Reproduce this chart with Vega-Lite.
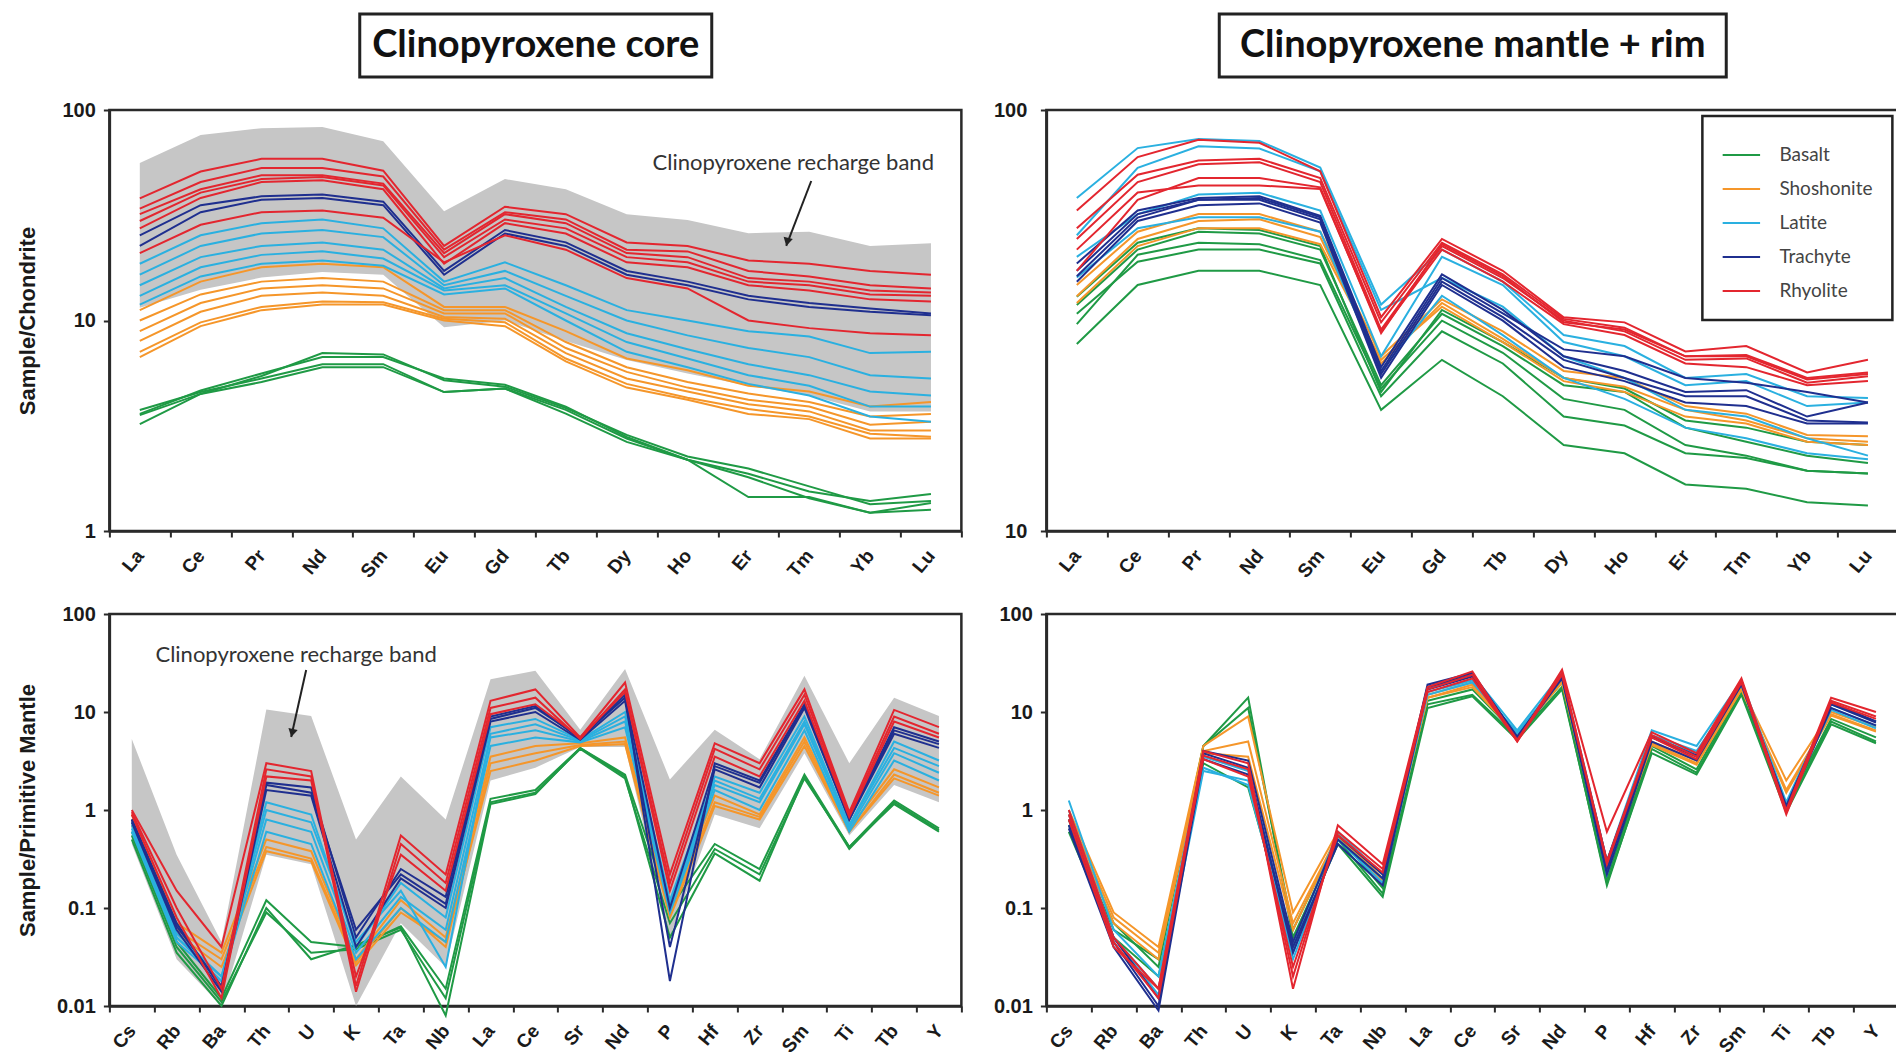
{
"$schema":"https://vega.github.io/schema/vega-lite/v6.json",
"background":"white",
"padding":{"left":15,"top":12,"right":0,"bottom":0},
"config":{
"view":{"stroke":"#2a2a2a","strokeWidth":2.5},
"axis":{"grid":false,"domainColor":"#2a2a2a","domainWidth":2.5,"tickColor":"#2a2a2a","tickWidth":2,"tickSize":6,"labelFont":"Liberation Sans","labelFontWeight":"bold","labelColor":"#1a1a1a","titleFont":"Liberation Sans","titleFontWeight":"bold","titleColor":"#1a1a1a"},
"legend":{"strokeWidth":2.5},
"line":{"strokeWidth":2}
},
"datasets":{
"groups":[
{"s":"B1","g":"Basalt"},{"s":"B2","g":"Basalt"},{"s":"B3","g":"Basalt"},{"s":"B4","g":"Basalt"},{"s":"B5","g":"Basalt"},
{"s":"S0","g":"Shoshonite"},{"s":"S1","g":"Shoshonite"},{"s":"S2","g":"Shoshonite"},{"s":"S3","g":"Shoshonite"},{"s":"S4","g":"Shoshonite"},{"s":"S5","g":"Shoshonite"},
{"s":"L1","g":"Latite"},{"s":"L2","g":"Latite"},{"s":"L3","g":"Latite"},{"s":"L4","g":"Latite"},{"s":"L5","g":"Latite"},
{"s":"T1","g":"Trachyte"},{"s":"T2","g":"Trachyte"},{"s":"T3","g":"Trachyte"},{"s":"T4","g":"Trachyte"},
{"s":"R1","g":"Rhyolite"},{"s":"R2","g":"Rhyolite"},{"s":"R3","g":"Rhyolite"},{"s":"R4","g":"Rhyolite"},{"s":"R5","g":"Rhyolite"},{"s":"R6","g":"Rhyolite"}
],
"bandREE":[
{"e":"La","lo":11.5,"hi":56},{"e":"Ce","lo":14,"hi":76},{"e":"Pr","lo":16,"hi":82},{"e":"Nd","lo":17,"hi":83},{"e":"Sm","lo":16.5,"hi":71},{"e":"Eu","lo":9.3,"hi":33},{"e":"Gd","lo":10,"hi":47},{"e":"Tb","lo":8,"hi":42},{"e":"Dy","lo":6.5,"hi":32},{"e":"Ho","lo":5.6,"hi":30},{"e":"Er","lo":4.9,"hi":26},{"e":"Tm","lo":4.4,"hi":26.4},{"e":"Yb","lo":3.7,"hi":22.6},{"e":"Lu","lo":3.7,"hi":23.3}
],
"bandSP":[
{"e":"Cs","lo":0.45,"hi":5.3},{"e":"Rb","lo":0.03,"hi":0.35},{"e":"Ba","lo":0.01,"hi":0.045},{"e":"Th","lo":0.35,"hi":10.6},{"e":"U","lo":0.28,"hi":9.1},{"e":"K","lo":0.01,"hi":0.5},{"e":"Ta","lo":0.07,"hi":2.2},{"e":"Nb","lo":0.025,"hi":0.8},{"e":"La","lo":2,"hi":21.6},{"e":"Ce","lo":2.7,"hi":26.3},{"e":"Sr","lo":4.4,"hi":6.6},{"e":"Nd","lo":4.4,"hi":27.4},{"e":"P","lo":0.05,"hi":2.05},{"e":"Hf","lo":0.9,"hi":6.6},{"e":"Zr","lo":0.65,"hi":3.3},{"e":"Sm","lo":3.8,"hi":23.4},{"e":"Ti","lo":0.55,"hi":3},{"e":"Tb","lo":1.8,"hi":14},{"e":"Y","lo":1.2,"hi":9.1}
],
"reeCore":[
{"s":"B1","e":"La","v":3.76},{"s":"B1","e":"Ce","v":4.57},{"s":"B1","e":"Pr","v":5.3},{"s":"B1","e":"Nd","v":6.2},{"s":"B1","e":"Sm","v":6.2},{"s":"B1","e":"Eu","v":4.57},{"s":"B1","e":"Gd","v":4.75},{"s":"B1","e":"Tb","v":3.76},{"s":"B1","e":"Dy","v":2.75},{"s":"B1","e":"Ho","v":2.18},{"s":"B1","e":"Er","v":1.87},{"s":"B1","e":"Tm","v":1.54},{"s":"B1","e":"Yb","v":1.39},{"s":"B1","e":"Lu","v":1.5},
{"s":"B2","e":"La","v":3.55},{"s":"B2","e":"Ce","v":4.48},{"s":"B2","e":"Pr","v":5.45},{"s":"B2","e":"Nd","v":7.0},{"s":"B2","e":"Sm","v":6.9},{"s":"B2","e":"Eu","v":5.2},{"s":"B2","e":"Gd","v":4.85},{"s":"B2","e":"Tb","v":3.84},{"s":"B2","e":"Dy","v":2.86},{"s":"B2","e":"Ho","v":2.26},{"s":"B2","e":"Er","v":1.98},{"s":"B2","e":"Tm","v":1.63},{"s":"B2","e":"Yb","v":1.34},{"s":"B2","e":"Lu","v":1.39},
{"s":"B3","e":"La","v":3.22},{"s":"B3","e":"Ce","v":4.48},{"s":"B3","e":"Pr","v":5.1},{"s":"B3","e":"Nd","v":6.0},{"s":"B3","e":"Sm","v":6.0},{"s":"B3","e":"Eu","v":4.57},{"s":"B3","e":"Gd","v":4.75},{"s":"B3","e":"Tb","v":3.61},{"s":"B3","e":"Dy","v":2.65},{"s":"B3","e":"Ho","v":2.18},{"s":"B3","e":"Er","v":1.45},{"s":"B3","e":"Tm","v":1.45},{"s":"B3","e":"Yb","v":1.22},{"s":"B3","e":"Lu","v":1.36},
{"s":"B4","e":"La","v":3.6},{"s":"B4","e":"Ce","v":4.65},{"s":"B4","e":"Pr","v":5.6},{"s":"B4","e":"Nd","v":6.7},{"s":"B4","e":"Sm","v":6.7},{"s":"B4","e":"Eu","v":5.3},{"s":"B4","e":"Gd","v":4.95},{"s":"B4","e":"Tb","v":3.9},{"s":"B4","e":"Dy","v":2.8},{"s":"B4","e":"Ho","v":2.18},{"s":"B4","e":"Er","v":1.8},{"s":"B4","e":"Tm","v":1.43},{"s":"B4","e":"Yb","v":1.22},{"s":"B4","e":"Lu","v":1.26},
{"s":"S0","e":"La","v":11.2},{"s":"S0","e":"Ce","v":15.3},{"s":"S0","e":"Pr","v":17.9},{"s":"S0","e":"Nd","v":18.6},{"s":"S0","e":"Sm","v":17.9},{"s":"S0","e":"Eu","v":11.6},{"s":"S0","e":"Gd","v":11.6},{"s":"S0","e":"Tb","v":8.9},{"s":"S0","e":"Dy","v":6.6},{"s":"S0","e":"Ho","v":5.8},{"s":"S0","e":"Er","v":4.9},{"s":"S0","e":"Tm","v":4.6},{"s":"S0","e":"Yb","v":3.9},{"s":"S0","e":"Lu","v":4.1},
{"s":"S1","e":"La","v":10},{"s":"S1","e":"Ce","v":13.3},{"s":"S1","e":"Pr","v":15.3},{"s":"S1","e":"Nd","v":15.9},{"s":"S1","e":"Sm","v":15.3},{"s":"S1","e":"Eu","v":11.2},{"s":"S1","e":"Gd","v":11.2},{"s":"S1","e":"Tb","v":7.9},{"s":"S1","e":"Dy","v":6},{"s":"S1","e":"Ho","v":5.1},{"s":"S1","e":"Er","v":4.5},{"s":"S1","e":"Tm","v":4.1},{"s":"S1","e":"Yb","v":3.5},{"s":"S1","e":"Lu","v":3.6},
{"s":"S2","e":"La","v":8.9},{"s":"S2","e":"Ce","v":12.1},{"s":"S2","e":"Pr","v":14.2},{"s":"S2","e":"Nd","v":14.7},{"s":"S2","e":"Sm","v":14.2},{"s":"S2","e":"Eu","v":10.8},{"s":"S2","e":"Gd","v":10.8},{"s":"S2","e":"Tb","v":7.4},{"s":"S2","e":"Dy","v":5.7},{"s":"S2","e":"Ho","v":4.8},{"s":"S2","e":"Er","v":4.2},{"s":"S2","e":"Tm","v":3.9},{"s":"S2","e":"Yb","v":3.2},{"s":"S2","e":"Lu","v":3.3},
{"s":"S3","e":"La","v":8},{"s":"S3","e":"Ce","v":11},{"s":"S3","e":"Pr","v":13.1},{"s":"S3","e":"Nd","v":13.6},{"s":"S3","e":"Sm","v":13.1},{"s":"S3","e":"Eu","v":10.4},{"s":"S3","e":"Gd","v":10.2},{"s":"S3","e":"Tb","v":7},{"s":"S3","e":"Dy","v":5.3},{"s":"S3","e":"Ho","v":4.6},{"s":"S3","e":"Er","v":4},{"s":"S3","e":"Tm","v":3.7},{"s":"S3","e":"Yb","v":3},{"s":"S3","e":"Lu","v":3},
{"s":"S4","e":"La","v":7.1},{"s":"S4","e":"Ce","v":9.8},{"s":"S4","e":"Pr","v":11.6},{"s":"S4","e":"Nd","v":12.3},{"s":"S4","e":"Sm","v":12.2},{"s":"S4","e":"Eu","v":10.2},{"s":"S4","e":"Gd","v":9.8},{"s":"S4","e":"Tb","v":6.6},{"s":"S4","e":"Dy","v":5},{"s":"S4","e":"Ho","v":4.3},{"s":"S4","e":"Er","v":3.8},{"s":"S4","e":"Tm","v":3.5},{"s":"S4","e":"Yb","v":2.9},{"s":"S4","e":"Lu","v":2.8},
{"s":"S5","e":"La","v":6.7},{"s":"S5","e":"Ce","v":9.4},{"s":"S5","e":"Pr","v":11.2},{"s":"S5","e":"Nd","v":11.9},{"s":"S5","e":"Sm","v":11.9},{"s":"S5","e":"Eu","v":10},{"s":"S5","e":"Gd","v":9.4},{"s":"S5","e":"Tb","v":6.4},{"s":"S5","e":"Dy","v":4.8},{"s":"S5","e":"Ho","v":4.2},{"s":"S5","e":"Er","v":3.6},{"s":"S5","e":"Tm","v":3.4},{"s":"S5","e":"Yb","v":2.75},{"s":"S5","e":"Lu","v":2.75},
{"s":"L1","e":"La","v":18.6},{"s":"L1","e":"Ce","v":25.4},{"s":"L1","e":"Pr","v":29},{"s":"L1","e":"Nd","v":30.2},{"s":"L1","e":"Sm","v":27.4},{"s":"L1","e":"Eu","v":15.3},{"s":"L1","e":"Gd","v":18.9},{"s":"L1","e":"Tb","v":14.7},{"s":"L1","e":"Dy","v":11.2},{"s":"L1","e":"Ho","v":10},{"s":"L1","e":"Er","v":8.9},{"s":"L1","e":"Tm","v":8.4},{"s":"L1","e":"Yb","v":7},{"s":"L1","e":"Lu","v":7.1},
{"s":"L2","e":"La","v":16.5},{"s":"L2","e":"Ce","v":22.6},{"s":"L2","e":"Pr","v":25.9},{"s":"L2","e":"Nd","v":26.9},{"s":"L2","e":"Sm","v":24.9},{"s":"L2","e":"Eu","v":14.7},{"s":"L2","e":"Gd","v":17.2},{"s":"L2","e":"Tb","v":13.1},{"s":"L2","e":"Dy","v":10},{"s":"L2","e":"Ho","v":8.5},{"s":"L2","e":"Er","v":7.4},{"s":"L2","e":"Tm","v":6.7},{"s":"L2","e":"Yb","v":5.5},{"s":"L2","e":"Lu","v":5.3},
{"s":"L3","e":"La","v":14.7},{"s":"L3","e":"Ce","v":20},{"s":"L3","e":"Pr","v":22.6},{"s":"L3","e":"Nd","v":23.5},{"s":"L3","e":"Sm","v":21.7},{"s":"L3","e":"Eu","v":14.2},{"s":"L3","e":"Gd","v":15.9},{"s":"L3","e":"Tb","v":11.6},{"s":"L3","e":"Dy","v":8.7},{"s":"L3","e":"Ho","v":7.3},{"s":"L3","e":"Er","v":6.2},{"s":"L3","e":"Tm","v":5.5},{"s":"L3","e":"Yb","v":4.6},{"s":"L3","e":"Lu","v":4.4},
{"s":"L4","e":"La","v":13.1},{"s":"L4","e":"Ce","v":17.9},{"s":"L4","e":"Pr","v":20.5},{"s":"L4","e":"Nd","v":21.3},{"s":"L4","e":"Sm","v":19.7},{"s":"L4","e":"Eu","v":13.9},{"s":"L4","e":"Gd","v":14.7},{"s":"L4","e":"Tb","v":10.8},{"s":"L4","e":"Dy","v":7.9},{"s":"L4","e":"Ho","v":6.6},{"s":"L4","e":"Er","v":5.5},{"s":"L4","e":"Tm","v":4.9},{"s":"L4","e":"Yb","v":3.9},{"s":"L4","e":"Lu","v":3.9},
{"s":"L5","e":"La","v":11.9},{"s":"L5","e":"Ce","v":16.2},{"s":"L5","e":"Pr","v":18.6},{"s":"L5","e":"Nd","v":19.3},{"s":"L5","e":"Sm","v":18.2},{"s":"L5","e":"Eu","v":13.3},{"s":"L5","e":"Gd","v":14.2},{"s":"L5","e":"Tb","v":10},{"s":"L5","e":"Dy","v":7.1},{"s":"L5","e":"Ho","v":6},{"s":"L5","e":"Er","v":5},{"s":"L5","e":"Tm","v":4.4},{"s":"L5","e":"Yb","v":3.5},{"s":"L5","e":"Lu","v":3.3},
{"s":"T1","e":"La","v":25.4},{"s":"T1","e":"Ce","v":35.3},{"s":"T1","e":"Pr","v":38.9},{"s":"T1","e":"Nd","v":39.7},{"s":"T1","e":"Sm","v":36.7},{"s":"T1","e":"Eu","v":17.2},{"s":"T1","e":"Gd","v":26.9},{"s":"T1","e":"Tb","v":23.5},{"s":"T1","e":"Dy","v":17.2},{"s":"T1","e":"Ho","v":15.3},{"s":"T1","e":"Er","v":13.1},{"s":"T1","e":"Tm","v":12.1},{"s":"T1","e":"Yb","v":11.4},{"s":"T1","e":"Lu","v":10.8},
{"s":"T2","e":"La","v":22.6},{"s":"T2","e":"Ce","v":32.7},{"s":"T2","e":"Pr","v":37.5},{"s":"T2","e":"Nd","v":38.2},{"s":"T2","e":"Sm","v":35.3},{"s":"T2","e":"Eu","v":16.5},{"s":"T2","e":"Gd","v":25.9},{"s":"T2","e":"Tb","v":22.6},{"s":"T2","e":"Dy","v":16.5},{"s":"T2","e":"Ho","v":14.7},{"s":"T2","e":"Er","v":12.6},{"s":"T2","e":"Tm","v":11.6},{"s":"T2","e":"Yb","v":11},{"s":"T2","e":"Lu","v":10.6},
{"s":"R5","e":"La","v":20.9},{"s":"R5","e":"Ce","v":28.5},{"s":"R5","e":"Pr","v":32.7},{"s":"R5","e":"Nd","v":33.3},{"s":"R5","e":"Sm","v":30.8},{"s":"R5","e":"Eu","v":18.9},{"s":"R5","e":"Gd","v":25.4},{"s":"R5","e":"Tb","v":21.7},{"s":"R5","e":"Dy","v":15.9},{"s":"R5","e":"Ho","v":14.2},{"s":"R5","e":"Er","v":10},{"s":"R5","e":"Tm","v":9.2},{"s":"R5","e":"Yb","v":8.7},{"s":"R5","e":"Lu","v":8.5},
{"s":"R4","e":"La","v":27.4},{"s":"R4","e":"Ce","v":38.2},{"s":"R4","e":"Pr","v":45.5},{"s":"R4","e":"Nd","v":46.4},{"s":"R4","e":"Sm","v":42},{"s":"R4","e":"Eu","v":18.6},{"s":"R4","e":"Gd","v":29},{"s":"R4","e":"Tb","v":25.9},{"s":"R4","e":"Dy","v":18.9},{"s":"R4","e":"Ho","v":17.9},{"s":"R4","e":"Er","v":14.7},{"s":"R4","e":"Tm","v":13.9},{"s":"R4","e":"Yb","v":12.6},{"s":"R4","e":"Lu","v":12.3},
{"s":"R3","e":"La","v":29.7},{"s":"R3","e":"Ce","v":40.5},{"s":"R3","e":"Pr","v":47},{"s":"R3","e":"Nd","v":48},{"s":"R3","e":"Sm","v":43.8},{"s":"R3","e":"Eu","v":20},{"s":"R3","e":"Gd","v":30.2},{"s":"R3","e":"Tb","v":27.4},{"s":"R3","e":"Dy","v":20},{"s":"R3","e":"Ho","v":18.9},{"s":"R3","e":"Er","v":15.3},{"s":"R3","e":"Tm","v":14.7},{"s":"R3","e":"Yb","v":13.3},{"s":"R3","e":"Lu","v":13.1},
{"s":"R2","e":"La","v":32},{"s":"R2","e":"Ce","v":42},{"s":"R2","e":"Pr","v":49},{"s":"R2","e":"Nd","v":49},{"s":"R2","e":"Sm","v":44.7},{"s":"R2","e":"Eu","v":20.9},{"s":"R2","e":"Gd","v":32},{"s":"R2","e":"Tb","v":29},{"s":"R2","e":"Dy","v":20.9},{"s":"R2","e":"Ho","v":20},{"s":"R2","e":"Er","v":15.9},{"s":"R2","e":"Tm","v":15.3},{"s":"R2","e":"Yb","v":13.9},{"s":"R2","e":"Lu","v":13.6},
{"s":"R6","e":"La","v":34},{"s":"R6","e":"Ce","v":45.5},{"s":"R6","e":"Pr","v":53},{"s":"R6","e":"Nd","v":53},{"s":"R6","e":"Sm","v":48.3},{"s":"R6","e":"Eu","v":21.7},{"s":"R6","e":"Gd","v":32.7},{"s":"R6","e":"Tb","v":30.2},{"s":"R6","e":"Dy","v":21.7},{"s":"R6","e":"Ho","v":21.3},{"s":"R6","e":"Er","v":17.2},{"s":"R6","e":"Tm","v":16.2},{"s":"R6","e":"Yb","v":14.7},{"s":"R6","e":"Lu","v":14.2},
{"s":"R1","e":"La","v":38},{"s":"R1","e":"Ce","v":51},{"s":"R1","e":"Pr","v":58.6},{"s":"R1","e":"Nd","v":58.6},{"s":"R1","e":"Sm","v":51.5},{"s":"R1","e":"Eu","v":22.6},{"s":"R1","e":"Gd","v":34.7},{"s":"R1","e":"Tb","v":32},{"s":"R1","e":"Dy","v":23.5},{"s":"R1","e":"Ho","v":22.6},{"s":"R1","e":"Er","v":19.3},{"s":"R1","e":"Tm","v":18.6},{"s":"R1","e":"Yb","v":17.2},{"s":"R1","e":"Lu","v":16.5}
],
"reeRim":[
{"s":"B4","e":"La","v":27.8},{"s":"B4","e":"Ce","v":38.4},{"s":"B4","e":"Pr","v":41.5},{"s":"B4","e":"Nd","v":41.5},{"s":"B4","e":"Sm","v":38.4},{"s":"B4","e":"Eu","v":19.4},{"s":"B4","e":"Gd","v":25.5},{"s":"B4","e":"Tb","v":20.9},{"s":"B4","e":"Dy","v":16},{"s":"B4","e":"Ho","v":15.3},{"s":"B4","e":"Er","v":12.9},{"s":"B4","e":"Tm","v":12.6},{"s":"B4","e":"Yb","v":11.7},{"s":"B4","e":"Lu","v":11.5},
{"s":"B2","e":"La","v":31},{"s":"B2","e":"Ce","v":45.3},{"s":"B2","e":"Pr","v":48.4},{"s":"B2","e":"Nd","v":48},{"s":"B2","e":"Sm","v":44},{"s":"B2","e":"Eu","v":21.8},{"s":"B2","e":"Gd","v":31.6},{"s":"B2","e":"Tb","v":26.5},{"s":"B2","e":"Dy","v":20.6},{"s":"B2","e":"Ho","v":19.4},{"s":"B2","e":"Er","v":16},{"s":"B2","e":"Tm","v":15.1},{"s":"B2","e":"Yb","v":13.9},{"s":"B2","e":"Lu","v":13.7},
{"s":"B3","e":"La","v":32.8},{"s":"B3","e":"Ce","v":43.6},{"s":"B3","e":"Pr","v":46.6},{"s":"B3","e":"Nd","v":46.6},{"s":"B3","e":"Sm","v":43.2},{"s":"B3","e":"Eu","v":20.9},{"s":"B3","e":"Gd","v":29.8},{"s":"B3","e":"Tb","v":25},{"s":"B3","e":"Dy","v":18.7},{"s":"B3","e":"Ho","v":17.8},{"s":"B3","e":"Er","v":15.3},{"s":"B3","e":"Tm","v":14.9},{"s":"B3","e":"Yb","v":13.9},{"s":"B3","e":"Lu","v":13.7},
{"s":"B1","e":"La","v":34.4},{"s":"B1","e":"Ce","v":46.6},{"s":"B1","e":"Pr","v":51.4},{"s":"B1","e":"Nd","v":50.9},{"s":"B1","e":"Sm","v":46.6},{"s":"B1","e":"Eu","v":22.2},{"s":"B1","e":"Gd","v":32.8},{"s":"B1","e":"Tb","v":27.5},{"s":"B1","e":"Dy","v":22.2},{"s":"B1","e":"Ho","v":21.4},{"s":"B1","e":"Er","v":17.6},{"s":"B1","e":"Tm","v":16.3},{"s":"B1","e":"Yb","v":15.1},{"s":"B1","e":"Lu","v":14.5},
{"s":"B5","e":"La","v":36},{"s":"B5","e":"Ce","v":48.4},{"s":"B5","e":"Pr","v":52.4},{"s":"B5","e":"Nd","v":51.9},{"s":"B5","e":"Sm","v":47.5},{"s":"B5","e":"Eu","v":21.4},{"s":"B5","e":"Gd","v":33.5},{"s":"B5","e":"Tb","v":28.1},{"s":"B5","e":"Dy","v":23.1},{"s":"B5","e":"Ho","v":21.8},{"s":"B5","e":"Er","v":18.3},{"s":"B5","e":"Tm","v":17.6},{"s":"B5","e":"Yb","v":16.3},{"s":"B5","e":"Lu","v":16},
{"s":"S1","e":"La","v":38.4},{"s":"S1","e":"Ce","v":51.4},{"s":"S1","e":"Pr","v":56.6},{"s":"S1","e":"Nd","v":56.6},{"s":"S1","e":"Sm","v":51.4},{"s":"S1","e":"Eu","v":26},{"s":"S1","e":"Gd","v":35.5},{"s":"S1","e":"Tb","v":29.8},{"s":"S1","e":"Dy","v":24},{"s":"S1","e":"Ho","v":23.1},{"s":"S1","e":"Er","v":19.8},{"s":"S1","e":"Tm","v":19},{"s":"S1","e":"Yb","v":16.9},{"s":"S1","e":"Lu","v":16.8},
{"s":"S2","e":"La","v":36.1},{"s":"S2","e":"Ce","v":49.4},{"s":"S2","e":"Pr","v":54.5},{"s":"S2","e":"Nd","v":55},{"s":"S2","e":"Sm","v":49.9},{"s":"S2","e":"Eu","v":25},{"s":"S2","e":"Gd","v":34.8},{"s":"S2","e":"Tb","v":28.6},{"s":"S2","e":"Dy","v":23.1},{"s":"S2","e":"Ho","v":22},{"s":"S2","e":"Er","v":19.4},{"s":"S2","e":"Tm","v":18.3},{"s":"S2","e":"Yb","v":16.6},{"s":"S2","e":"Lu","v":16.3},
{"s":"S3","e":"La","v":34.8},{"s":"S3","e":"Ce","v":47.5},{"s":"S3","e":"Pr","v":52.4},{"s":"S3","e":"Nd","v":52.4},{"s":"S3","e":"Sm","v":48},{"s":"S3","e":"Eu","v":25.5},{"s":"S3","e":"Gd","v":34.1},{"s":"S3","e":"Tb","v":28.1},{"s":"S3","e":"Dy","v":22.7},{"s":"S3","e":"Ho","v":21.4},{"s":"S3","e":"Er","v":18.7},{"s":"S3","e":"Tm","v":18},{"s":"S3","e":"Yb","v":16.3},{"s":"S3","e":"Lu","v":16},
{"s":"L3","e":"La","v":40},{"s":"L3","e":"Ce","v":52.4},{"s":"L3","e":"Pr","v":55.6},{"s":"L3","e":"Nd","v":55.6},{"s":"L3","e":"Sm","v":51.4},{"s":"L3","e":"Eu","v":24},{"s":"L3","e":"Gd","v":36.2},{"s":"L3","e":"Tb","v":29.2},{"s":"L3","e":"Dy","v":23.1},{"s":"L3","e":"Ho","v":20.6},{"s":"L3","e":"Er","v":17.6},{"s":"L3","e":"Tm","v":16.6},{"s":"L3","e":"Yb","v":15.3},{"s":"L3","e":"Lu","v":14.8},
{"s":"L2","e":"La","v":44.8},{"s":"L2","e":"Ce","v":56.6},{"s":"L2","e":"Pr","v":63},{"s":"L2","e":"Nd","v":63.6},{"s":"L2","e":"Sm","v":57.7},{"s":"L2","e":"Eu","v":26},{"s":"L2","e":"Gd","v":44.8},{"s":"L2","e":"Tb","v":38.4},{"s":"L2","e":"Dy","v":28.1},{"s":"L2","e":"Ho","v":26},{"s":"L2","e":"Er","v":22.2},{"s":"L2","e":"Tm","v":22.7},{"s":"L2","e":"Yb","v":19.8},{"s":"L2","e":"Lu","v":20.2},
{"s":"L4","e":"La","v":50.4},{"s":"L4","e":"Ce","v":72.9},{"s":"L4","e":"Pr","v":82},{"s":"L4","e":"Nd","v":81},{"s":"L4","e":"Sm","v":71.5},{"s":"L4","e":"Eu","v":33.5},{"s":"L4","e":"Gd","v":39.9},{"s":"L4","e":"Tb","v":34.1},{"s":"L4","e":"Dy","v":26},{"s":"L4","e":"Ho","v":23.1},{"s":"L4","e":"Er","v":19.4},{"s":"L4","e":"Tm","v":18.7},{"s":"L4","e":"Yb","v":16.6},{"s":"L4","e":"Lu","v":15.1},
{"s":"L1","e":"La","v":61.8},{"s":"L1","e":"Ce","v":81.2},{"s":"L1","e":"Pr","v":85.3},{"s":"L1","e":"Nd","v":84.4},{"s":"L1","e":"Sm","v":73},{"s":"L1","e":"Eu","v":34.5},{"s":"L1","e":"Gd","v":46.6},{"s":"L1","e":"Tb","v":39.1},{"s":"L1","e":"Dy","v":29.2},{"s":"L1","e":"Ho","v":27.5},{"s":"L1","e":"Er","v":23.1},{"s":"L1","e":"Tm","v":23.6},{"s":"L1","e":"Yb","v":20.9},{"s":"L1","e":"Lu","v":20.7},
{"s":"T1","e":"La","v":43.2},{"s":"T1","e":"Ce","v":57.7},{"s":"T1","e":"Pr","v":61.8},{"s":"T1","e":"Nd","v":62.4},{"s":"T1","e":"Sm","v":56.1},{"s":"T1","e":"Eu","v":24.5},{"s":"T1","e":"Gd","v":40.7},{"s":"T1","e":"Tb","v":33.5},{"s":"T1","e":"Dy","v":26},{"s":"T1","e":"Ho","v":24},{"s":"T1","e":"Er","v":21.4},{"s":"T1","e":"Tm","v":21.6},{"s":"T1","e":"Yb","v":18.7},{"s":"T1","e":"Lu","v":20.2},
{"s":"T2","e":"La","v":40.3},{"s":"T2","e":"Ce","v":55.5},{"s":"T2","e":"Pr","v":61.2},{"s":"T2","e":"Nd","v":61.2},{"s":"T2","e":"Sm","v":55},{"s":"T2","e":"Eu","v":23.6},{"s":"T2","e":"Gd","v":39.1},{"s":"T2","e":"Tb","v":32.2},{"s":"T2","e":"Dy","v":25.5},{"s":"T2","e":"Ho","v":23.1},{"s":"T2","e":"Er","v":20.9},{"s":"T2","e":"Tm","v":20.9},{"s":"T2","e":"Yb","v":18.3},{"s":"T2","e":"Lu","v":18.1},
{"s":"T3","e":"La","v":39.1},{"s":"T3","e":"Ce","v":54.5},{"s":"T3","e":"Pr","v":59.4},{"s":"T3","e":"Nd","v":60},{"s":"T3","e":"Sm","v":54},{"s":"T3","e":"Eu","v":23.1},{"s":"T3","e":"Gd","v":38.4},{"s":"T3","e":"Tb","v":31.6},{"s":"T3","e":"Dy","v":24.5},{"s":"T3","e":"Ho","v":22.7},{"s":"T3","e":"Er","v":20.2},{"s":"T3","e":"Tm","v":19.8},{"s":"T3","e":"Yb","v":18},{"s":"T3","e":"Lu","v":18},
{"s":"T4","e":"La","v":41.5},{"s":"T4","e":"Ce","v":56.6},{"s":"T4","e":"Pr","v":61.2},{"s":"T4","e":"Nd","v":61.8},{"s":"T4","e":"Sm","v":55.6},{"s":"T4","e":"Eu","v":24},{"s":"T4","e":"Gd","v":39.9},{"s":"T4","e":"Tb","v":32.9},{"s":"T4","e":"Dy","v":27},{"s":"T4","e":"Ho","v":26},{"s":"T4","e":"Er","v":23.1},{"s":"T4","e":"Tm","v":22.5},{"s":"T4","e":"Yb","v":21.4},{"s":"T4","e":"Lu","v":20.2},
{"s":"R5","e":"La","v":41.5},{"s":"R5","e":"Ce","v":61.2},{"s":"R5","e":"Pr","v":68.9},{"s":"R5","e":"Nd","v":68.9},{"s":"R5","e":"Sm","v":65.5},{"s":"R5","e":"Eu","v":29.5},{"s":"R5","e":"Gd","v":48},{"s":"R5","e":"Tb","v":40.3},{"s":"R5","e":"Dy","v":31.3},{"s":"R5","e":"Ho","v":30.1},{"s":"R5","e":"Er","v":26},{"s":"R5","e":"Tm","v":26},{"s":"R5","e":"Yb","v":22.9},{"s":"R5","e":"Lu","v":23.6},
{"s":"R4","e":"La","v":46.6},{"s":"R4","e":"Ce","v":63.7},{"s":"R4","e":"Pr","v":66.2},{"s":"R4","e":"Nd","v":66.2},{"s":"R4","e":"Sm","v":64.9},{"s":"R4","e":"Eu","v":29.8},{"s":"R4","e":"Gd","v":46.6},{"s":"R4","e":"Tb","v":39.1},{"s":"R4","e":"Dy","v":31},{"s":"R4","e":"Ho","v":29.2},{"s":"R4","e":"Er","v":25},{"s":"R4","e":"Tm","v":24.5},{"s":"R4","e":"Yb","v":22.2},{"s":"R4","e":"Lu","v":22.7},
{"s":"R3","e":"La","v":49.4},{"s":"R3","e":"Ce","v":67.4},{"s":"R3","e":"Pr","v":74.3},{"s":"R3","e":"Nd","v":75.1},{"s":"R3","e":"Sm","v":67.4},{"s":"R3","e":"Eu","v":30.1},{"s":"R3","e":"Gd","v":47.5},{"s":"R3","e":"Tb","v":39.9},{"s":"R3","e":"Dy","v":31.6},{"s":"R3","e":"Ho","v":29.8},{"s":"R3","e":"Er","v":25.5},{"s":"R3","e":"Tm","v":25.7},{"s":"R3","e":"Yb","v":22.5},{"s":"R3","e":"Lu","v":23.3},
{"s":"R2","e":"La","v":52.4},{"s":"R2","e":"Ce","v":70.2},{"s":"R2","e":"Pr","v":75.9},{"s":"R2","e":"Nd","v":76.6},{"s":"R2","e":"Sm","v":68.9},{"s":"R2","e":"Eu","v":31.3},{"s":"R2","e":"Gd","v":48.4},{"s":"R2","e":"Tb","v":40.7},{"s":"R2","e":"Dy","v":31.9},{"s":"R2","e":"Ho","v":30.4},{"s":"R2","e":"Er","v":26},{"s":"R2","e":"Tm","v":26.2},{"s":"R2","e":"Yb","v":23.1},{"s":"R2","e":"Lu","v":23.8},
{"s":"R1","e":"La","v":57.7},{"s":"R1","e":"Ce","v":77.3},{"s":"R1","e":"Pr","v":85},{"s":"R1","e":"Nd","v":83.6},{"s":"R1","e":"Sm","v":71.5},{"s":"R1","e":"Eu","v":32.2},{"s":"R1","e":"Gd","v":49.4},{"s":"R1","e":"Tb","v":41.5},{"s":"R1","e":"Dy","v":32.2},{"s":"R1","e":"Ho","v":31.3},{"s":"R1","e":"Er","v":26.7},{"s":"R1","e":"Tm","v":27.5},{"s":"R1","e":"Yb","v":23.8},{"s":"R1","e":"Lu","v":25.5}
],
"spCore":[
{"s":"B3","e":"Cs","v":0.5},{"s":"B3","e":"Rb","v":0.035},{"s":"B3","e":"Ba","v":0.01},{"s":"B3","e":"Th","v":0.1},{"s":"B3","e":"U","v":0.03},{"s":"B3","e":"K","v":0.042},{"s":"B3","e":"Ta","v":0.063},{"s":"B3","e":"Nb","v":0.008},{"s":"B3","e":"La","v":1.15},{"s":"B3","e":"Ce","v":1.45},{"s":"B3","e":"Sr","v":4.3},{"s":"B3","e":"Nd","v":2.2},{"s":"B3","e":"P","v":0.05},{"s":"B3","e":"Hf","v":0.36},{"s":"B3","e":"Zr","v":0.19},{"s":"B3","e":"Sm","v":2.2},{"s":"B3","e":"Ti","v":0.4},{"s":"B3","e":"Tb","v":1.2},{"s":"B3","e":"Y","v":0.62},
{"s":"B2","e":"Cs","v":0.55},{"s":"B2","e":"Rb","v":0.04},{"s":"B2","e":"Ba","v":0.011},{"s":"B2","e":"Th","v":0.09},{"s":"B2","e":"U","v":0.035},{"s":"B2","e":"K","v":0.038},{"s":"B2","e":"Ta","v":0.06},{"s":"B2","e":"Nb","v":0.012},{"s":"B2","e":"La","v":1.2},{"s":"B2","e":"Ce","v":1.5},{"s":"B2","e":"Sr","v":4.2},{"s":"B2","e":"Nd","v":2.1},{"s":"B2","e":"P","v":0.07},{"s":"B2","e":"Hf","v":0.4},{"s":"B2","e":"Zr","v":0.22},{"s":"B2","e":"Sm","v":2.1},{"s":"B2","e":"Ti","v":0.42},{"s":"B2","e":"Tb","v":1.15},{"s":"B2","e":"Y","v":0.6},
{"s":"B1","e":"Cs","v":0.6},{"s":"B1","e":"Rb","v":0.045},{"s":"B1","e":"Ba","v":0.012},{"s":"B1","e":"Th","v":0.12},{"s":"B1","e":"U","v":0.045},{"s":"B1","e":"K","v":0.04},{"s":"B1","e":"Ta","v":0.065},{"s":"B1","e":"Nb","v":0.015},{"s":"B1","e":"La","v":1.3},{"s":"B1","e":"Ce","v":1.6},{"s":"B1","e":"Sr","v":4.3},{"s":"B1","e":"Nd","v":2.3},{"s":"B1","e":"P","v":0.1},{"s":"B1","e":"Hf","v":0.45},{"s":"B1","e":"Zr","v":0.25},{"s":"B1","e":"Sm","v":2.3},{"s":"B1","e":"Ti","v":0.42},{"s":"B1","e":"Tb","v":1.25},{"s":"B1","e":"Y","v":0.65},
{"s":"S3","e":"Cs","v":0.7},{"s":"S3","e":"Rb","v":0.055},{"s":"S3","e":"Ba","v":0.025},{"s":"S3","e":"Th","v":0.38},{"s":"S3","e":"U","v":0.3},{"s":"S3","e":"K","v":0.026},{"s":"S3","e":"Ta","v":0.09},{"s":"S3","e":"Nb","v":0.045},{"s":"S3","e":"La","v":2.5},{"s":"S3","e":"Ce","v":3.2},{"s":"S3","e":"Sr","v":4.5},{"s":"S3","e":"Nd","v":4.7},{"s":"S3","e":"P","v":0.08},{"s":"S3","e":"Hf","v":1.1},{"s":"S3","e":"Zr","v":0.8},{"s":"S3","e":"Sm","v":4.5},{"s":"S3","e":"Ti","v":0.6},{"s":"S3","e":"Tb","v":2.1},{"s":"S3","e":"Y","v":1.4},
{"s":"S2","e":"Cs","v":0.8},{"s":"S2","e":"Rb","v":0.06},{"s":"S2","e":"Ba","v":0.03},{"s":"S2","e":"Th","v":0.42},{"s":"S2","e":"U","v":0.32},{"s":"S2","e":"K","v":0.028},{"s":"S2","e":"Ta","v":0.1},{"s":"S2","e":"Nb","v":0.04},{"s":"S2","e":"La","v":3},{"s":"S2","e":"Ce","v":3.8},{"s":"S2","e":"Sr","v":4.6},{"s":"S2","e":"Nd","v":5},{"s":"S2","e":"P","v":0.09},{"s":"S2","e":"Hf","v":1.2},{"s":"S2","e":"Zr","v":0.85},{"s":"S2","e":"Sm","v":5},{"s":"S2","e":"Ti","v":0.6},{"s":"S2","e":"Tb","v":2.3},{"s":"S2","e":"Y","v":1.5},
{"s":"S1","e":"Cs","v":0.9},{"s":"S1","e":"Rb","v":0.07},{"s":"S1","e":"Ba","v":0.035},{"s":"S1","e":"Th","v":0.5},{"s":"S1","e":"U","v":0.38},{"s":"S1","e":"K","v":0.03},{"s":"S1","e":"Ta","v":0.12},{"s":"S1","e":"Nb","v":0.05},{"s":"S1","e":"La","v":3.5},{"s":"S1","e":"Ce","v":4.5},{"s":"S1","e":"Sr","v":4.8},{"s":"S1","e":"Nd","v":5.5},{"s":"S1","e":"P","v":0.1},{"s":"S1","e":"Hf","v":1.4},{"s":"S1","e":"Zr","v":0.9},{"s":"S1","e":"Sm","v":5.5},{"s":"S1","e":"Ti","v":0.65},{"s":"S1","e":"Tb","v":2.6},{"s":"S1","e":"Y","v":1.7},
{"s":"L3","e":"Cs","v":0.6},{"s":"L3","e":"Rb","v":0.045},{"s":"L3","e":"Ba","v":0.018},{"s":"L3","e":"Th","v":0.6},{"s":"L3","e":"U","v":0.45},{"s":"L3","e":"K","v":0.03},{"s":"L3","e":"Ta","v":0.1},{"s":"L3","e":"Nb","v":0.045},{"s":"L3","e":"La","v":4.5},{"s":"L3","e":"Ce","v":5.5},{"s":"L3","e":"Sr","v":4.9},{"s":"L3","e":"Nd","v":7},{"s":"L3","e":"P","v":0.09},{"s":"L3","e":"Hf","v":1.6},{"s":"L3","e":"Zr","v":1},{"s":"L3","e":"Sm","v":6.5},{"s":"L3","e":"Ti","v":0.6},{"s":"L3","e":"Tb","v":3.2},{"s":"L3","e":"Y","v":2},
{"s":"L2","e":"Cs","v":0.65},{"s":"L2","e":"Rb","v":0.05},{"s":"L2","e":"Ba","v":0.02},{"s":"L2","e":"Th","v":0.8},{"s":"L2","e":"U","v":0.6},{"s":"L2","e":"K","v":0.035},{"s":"L2","e":"Ta","v":0.13},{"s":"L2","e":"Nb","v":0.06},{"s":"L2","e":"La","v":5.5},{"s":"L2","e":"Ce","v":6.5},{"s":"L2","e":"Sr","v":5},{"s":"L2","e":"Nd","v":8},{"s":"L2","e":"P","v":0.1},{"s":"L2","e":"Hf","v":1.8},{"s":"L2","e":"Zr","v":1.2},{"s":"L2","e":"Sm","v":7.5},{"s":"L2","e":"Ti","v":0.65},{"s":"L2","e":"Tb","v":3.8},{"s":"L2","e":"Y","v":2.4},
{"s":"L4","e":"Cs","v":0.75},{"s":"L4","e":"Rb","v":0.055},{"s":"L4","e":"Ba","v":0.02},{"s":"L4","e":"Th","v":1},{"s":"L4","e":"U","v":0.75},{"s":"L4","e":"K","v":0.045},{"s":"L4","e":"Ta","v":0.15},{"s":"L4","e":"Nb","v":0.025},{"s":"L4","e":"La","v":6},{"s":"L4","e":"Ce","v":7.5},{"s":"L4","e":"Sr","v":5.1},{"s":"L4","e":"Nd","v":9},{"s":"L4","e":"P","v":0.11},{"s":"L4","e":"Hf","v":2},{"s":"L4","e":"Zr","v":1.3},{"s":"L4","e":"Sm","v":8},{"s":"L4","e":"Ti","v":0.7},{"s":"L4","e":"Tb","v":4.3},{"s":"L4","e":"Y","v":2.8},
{"s":"L1","e":"Cs","v":0.7},{"s":"L1","e":"Rb","v":0.05},{"s":"L1","e":"Ba","v":0.018},{"s":"L1","e":"Th","v":1.2},{"s":"L1","e":"U","v":0.9},{"s":"L1","e":"K","v":0.04},{"s":"L1","e":"Ta","v":0.18},{"s":"L1","e":"Nb","v":0.08},{"s":"L1","e":"La","v":7},{"s":"L1","e":"Ce","v":8.5},{"s":"L1","e":"Sr","v":5.2},{"s":"L1","e":"Nd","v":10},{"s":"L1","e":"P","v":0.12},{"s":"L1","e":"Hf","v":2.2},{"s":"L1","e":"Zr","v":1.5},{"s":"L1","e":"Sm","v":9},{"s":"L1","e":"Ti","v":0.7},{"s":"L1","e":"Tb","v":5},{"s":"L1","e":"Y","v":3.2},
{"s":"T2","e":"Cs","v":0.75},{"s":"T2","e":"Rb","v":0.06},{"s":"T2","e":"Ba","v":0.014},{"s":"T2","e":"Th","v":1.6},{"s":"T2","e":"U","v":1.4},{"s":"T2","e":"K","v":0.04},{"s":"T2","e":"Ta","v":0.2},{"s":"T2","e":"Nb","v":0.1},{"s":"T2","e":"La","v":8},{"s":"T2","e":"Ce","v":10},{"s":"T2","e":"Sr","v":5.2},{"s":"T2","e":"Nd","v":13},{"s":"T2","e":"P","v":0.04},{"s":"T2","e":"Hf","v":2.6},{"s":"T2","e":"Zr","v":1.7},{"s":"T2","e":"Sm","v":11},{"s":"T2","e":"Ti","v":0.8},{"s":"T2","e":"Tb","v":6},{"s":"T2","e":"Y","v":4.3},
{"s":"T3","e":"Cs","v":0.8},{"s":"T3","e":"Rb","v":0.065},{"s":"T3","e":"Ba","v":0.016},{"s":"T3","e":"Th","v":1.8},{"s":"T3","e":"U","v":1.5},{"s":"T3","e":"K","v":0.06},{"s":"T3","e":"Ta","v":0.22},{"s":"T3","e":"Nb","v":0.11},{"s":"T3","e":"La","v":8.5},{"s":"T3","e":"Ce","v":11},{"s":"T3","e":"Sr","v":5.5},{"s":"T3","e":"Nd","v":14},{"s":"T3","e":"P","v":0.1},{"s":"T3","e":"Hf","v":2.8},{"s":"T3","e":"Zr","v":1.9},{"s":"T3","e":"Sm","v":11.5},{"s":"T3","e":"Ti","v":0.8},{"s":"T3","e":"Tb","v":6.5},{"s":"T3","e":"Y","v":4.7},
{"s":"T1","e":"Cs","v":0.8},{"s":"T1","e":"Rb","v":0.07},{"s":"T1","e":"Ba","v":0.015},{"s":"T1","e":"Th","v":1.9},{"s":"T1","e":"U","v":1.7},{"s":"T1","e":"K","v":0.05},{"s":"T1","e":"Ta","v":0.25},{"s":"T1","e":"Nb","v":0.13},{"s":"T1","e":"La","v":9},{"s":"T1","e":"Ce","v":11.5},{"s":"T1","e":"Sr","v":5.3},{"s":"T1","e":"Nd","v":15},{"s":"T1","e":"P","v":0.018},{"s":"T1","e":"Hf","v":3},{"s":"T1","e":"Zr","v":2},{"s":"T1","e":"Sm","v":12},{"s":"T1","e":"Ti","v":0.85},{"s":"T1","e":"Tb","v":7},{"s":"T1","e":"Y","v":5},
{"s":"R3","e":"Cs","v":0.9},{"s":"R3","e":"Rb","v":0.08},{"s":"R3","e":"Ba","v":0.012},{"s":"R3","e":"Th","v":2.2},{"s":"R3","e":"U","v":2},{"s":"R3","e":"K","v":0.02},{"s":"R3","e":"Ta","v":0.35},{"s":"R3","e":"Nb","v":0.15},{"s":"R3","e":"La","v":9.5},{"s":"R3","e":"Ce","v":12},{"s":"R3","e":"Sr","v":5.5},{"s":"R3","e":"Nd","v":16},{"s":"R3","e":"P","v":0.15},{"s":"R3","e":"Hf","v":3.5},{"s":"R3","e":"Zr","v":2.2},{"s":"R3","e":"Sm","v":13},{"s":"R3","e":"Ti","v":0.85},{"s":"R3","e":"Tb","v":8},{"s":"R3","e":"Y","v":5.5},
{"s":"R2","e":"Cs","v":0.95},{"s":"R2","e":"Rb","v":0.1},{"s":"R2","e":"Ba","v":0.015},{"s":"R2","e":"Th","v":2.6},{"s":"R2","e":"U","v":2.2},{"s":"R2","e":"K","v":0.014},{"s":"R2","e":"Ta","v":0.45},{"s":"R2","e":"Nb","v":0.18},{"s":"R2","e":"La","v":11},{"s":"R2","e":"Ce","v":14},{"s":"R2","e":"Sr","v":5.3},{"s":"R2","e":"Nd","v":17},{"s":"R2","e":"P","v":0.18},{"s":"R2","e":"Hf","v":4.2},{"s":"R2","e":"Zr","v":2.6},{"s":"R2","e":"Sm","v":15},{"s":"R2","e":"Ti","v":0.9},{"s":"R2","e":"Tb","v":9},{"s":"R2","e":"Y","v":6},
{"s":"R1","e":"Cs","v":1},{"s":"R1","e":"Rb","v":0.15},{"s":"R1","e":"Ba","v":0.04},{"s":"R1","e":"Th","v":3},{"s":"R1","e":"U","v":2.5},{"s":"R1","e":"K","v":0.016},{"s":"R1","e":"Ta","v":0.55},{"s":"R1","e":"Nb","v":0.22},{"s":"R1","e":"La","v":13},{"s":"R1","e":"Ce","v":17},{"s":"R1","e":"Sr","v":5.5},{"s":"R1","e":"Nd","v":20},{"s":"R1","e":"P","v":0.22},{"s":"R1","e":"Hf","v":4.8},{"s":"R1","e":"Zr","v":3},{"s":"R1","e":"Sm","v":17},{"s":"R1","e":"Ti","v":0.95},{"s":"R1","e":"Tb","v":10.5},{"s":"R1","e":"Y","v":7}
],
"spRim":[
{"s":"B3","e":"Cs","v":0.6},{"s":"B3","e":"Rb","v":0.05},{"s":"B3","e":"Ba","v":0.02},{"s":"B3","e":"Th","v":3},{"s":"B3","e":"U","v":1.7},{"s":"B3","e":"K","v":0.04},{"s":"B3","e":"Ta","v":0.45},{"s":"B3","e":"Nb","v":0.13},{"s":"B3","e":"La","v":11},{"s":"B3","e":"Ce","v":14.5},{"s":"B3","e":"Sr","v":5.2},{"s":"B3","e":"Nd","v":17},{"s":"B3","e":"P","v":0.18},{"s":"B3","e":"Hf","v":3.8},{"s":"B3","e":"Zr","v":2.3},{"s":"B3","e":"Sm","v":15},{"s":"B3","e":"Ti","v":0.95},{"s":"B3","e":"Tb","v":7.5},{"s":"B3","e":"Y","v":4.8},
{"s":"B1","e":"Cs","v":0.7},{"s":"B1","e":"Rb","v":0.06},{"s":"B1","e":"Ba","v":0.03},{"s":"B1","e":"Th","v":4.5},{"s":"B1","e":"U","v":14},{"s":"B1","e":"K","v":0.05},{"s":"B1","e":"Ta","v":0.5},{"s":"B1","e":"Nb","v":0.14},{"s":"B1","e":"La","v":12},{"s":"B1","e":"Ce","v":15},{"s":"B1","e":"Sr","v":5.5},{"s":"B1","e":"Nd","v":18},{"s":"B1","e":"P","v":0.17},{"s":"B1","e":"Hf","v":4.2},{"s":"B1","e":"Zr","v":2.4},{"s":"B1","e":"Sm","v":16},{"s":"B1","e":"Ti","v":1},{"s":"B1","e":"Tb","v":8},{"s":"B1","e":"Y","v":5},
{"s":"B2","e":"Cs","v":0.8},{"s":"B2","e":"Rb","v":0.07},{"s":"B2","e":"Ba","v":0.025},{"s":"B2","e":"Th","v":4.5},{"s":"B2","e":"U","v":11},{"s":"B2","e":"K","v":0.06},{"s":"B2","e":"Ta","v":0.55},{"s":"B2","e":"Nb","v":0.16},{"s":"B2","e":"La","v":13},{"s":"B2","e":"Ce","v":17},{"s":"B2","e":"Sr","v":5.8},{"s":"B2","e":"Nd","v":20},{"s":"B2","e":"P","v":0.2},{"s":"B2","e":"Hf","v":4.5},{"s":"B2","e":"Zr","v":2.6},{"s":"B2","e":"Sm","v":17},{"s":"B2","e":"Ti","v":1.1},{"s":"B2","e":"Tb","v":8.5},{"s":"B2","e":"Y","v":5.5},
{"s":"S3","e":"Cs","v":0.8},{"s":"S3","e":"Rb","v":0.07},{"s":"S3","e":"Ba","v":0.03},{"s":"S3","e":"Th","v":3.8},{"s":"S3","e":"U","v":3.5},{"s":"S3","e":"K","v":0.06},{"s":"S3","e":"Ta","v":0.55},{"s":"S3","e":"Nb","v":0.19},{"s":"S3","e":"La","v":14},{"s":"S3","e":"Ce","v":18},{"s":"S3","e":"Sr","v":5.8},{"s":"S3","e":"Nd","v":20},{"s":"S3","e":"P","v":0.25},{"s":"S3","e":"Hf","v":4.6},{"s":"S3","e":"Zr","v":2.9},{"s":"S3","e":"Sm","v":17},{"s":"S3","e":"Ti","v":1.5},{"s":"S3","e":"Tb","v":9.2},{"s":"S3","e":"Y","v":6.3},
{"s":"S2","e":"Cs","v":0.9},{"s":"S2","e":"Rb","v":0.08},{"s":"S2","e":"Ba","v":0.035},{"s":"S2","e":"Th","v":4},{"s":"S2","e":"U","v":5},{"s":"S2","e":"K","v":0.07},{"s":"S2","e":"Ta","v":0.55},{"s":"S2","e":"Nb","v":0.2},{"s":"S2","e":"La","v":14},{"s":"S2","e":"Ce","v":19},{"s":"S2","e":"Sr","v":6},{"s":"S2","e":"Nd","v":21},{"s":"S2","e":"P","v":0.25},{"s":"S2","e":"Hf","v":4.8},{"s":"S2","e":"Zr","v":3},{"s":"S2","e":"Sm","v":17},{"s":"S2","e":"Ti","v":1.6},{"s":"S2","e":"Tb","v":9.5},{"s":"S2","e":"Y","v":6.5},
{"s":"S1","e":"Cs","v":1},{"s":"S1","e":"Rb","v":0.09},{"s":"S1","e":"Ba","v":0.04},{"s":"S1","e":"Th","v":4.5},{"s":"S1","e":"U","v":9},{"s":"S1","e":"K","v":0.09},{"s":"S1","e":"Ta","v":0.6},{"s":"S1","e":"Nb","v":0.2},{"s":"S1","e":"La","v":15},{"s":"S1","e":"Ce","v":20},{"s":"S1","e":"Sr","v":6},{"s":"S1","e":"Nd","v":22},{"s":"S1","e":"P","v":0.3},{"s":"S1","e":"Hf","v":5},{"s":"S1","e":"Zr","v":3.2},{"s":"S1","e":"Sm","v":18},{"s":"S1","e":"Ti","v":2},{"s":"S1","e":"Tb","v":10},{"s":"S1","e":"Y","v":7},
{"s":"L2","e":"Cs","v":1},{"s":"L2","e":"Rb","v":0.05},{"s":"L2","e":"Ba","v":0.015},{"s":"L2","e":"Th","v":2.7},{"s":"L2","e":"U","v":1.8},{"s":"L2","e":"K","v":0.035},{"s":"L2","e":"Ta","v":0.5},{"s":"L2","e":"Nb","v":0.18},{"s":"L2","e":"La","v":15},{"s":"L2","e":"Ce","v":20},{"s":"L2","e":"Sr","v":6.2},{"s":"L2","e":"Nd","v":22},{"s":"L2","e":"P","v":0.25},{"s":"L2","e":"Hf","v":5.5},{"s":"L2","e":"Zr","v":3.8},{"s":"L2","e":"Sm","v":19},{"s":"L2","e":"Ti","v":1.1},{"s":"L2","e":"Tb","v":10.5},{"s":"L2","e":"Y","v":6.8},
{"s":"L3","e":"Cs","v":0.9},{"s":"L3","e":"Rb","v":0.05},{"s":"L3","e":"Ba","v":0.013},{"s":"L3","e":"Th","v":2.5},{"s":"L3","e":"U","v":2},{"s":"L3","e":"K","v":0.03},{"s":"L3","e":"Ta","v":0.5},{"s":"L3","e":"Nb","v":0.2},{"s":"L3","e":"La","v":16},{"s":"L3","e":"Ce","v":21},{"s":"L3","e":"Sr","v":6},{"s":"L3","e":"Nd","v":23},{"s":"L3","e":"P","v":0.22},{"s":"L3","e":"Hf","v":5.8},{"s":"L3","e":"Zr","v":4},{"s":"L3","e":"Sm","v":19},{"s":"L3","e":"Ti","v":1.1},{"s":"L3","e":"Tb","v":11},{"s":"L3","e":"Y","v":7.2},
{"s":"L1","e":"Cs","v":1.25},{"s":"L1","e":"Rb","v":0.06},{"s":"L1","e":"Ba","v":0.02},{"s":"L1","e":"Th","v":3.5},{"s":"L1","e":"U","v":2.5},{"s":"L1","e":"K","v":0.04},{"s":"L1","e":"Ta","v":0.6},{"s":"L1","e":"Nb","v":0.22},{"s":"L1","e":"La","v":18},{"s":"L1","e":"Ce","v":24},{"s":"L1","e":"Sr","v":6.5},{"s":"L1","e":"Nd","v":25},{"s":"L1","e":"P","v":0.3},{"s":"L1","e":"Hf","v":6.5},{"s":"L1","e":"Zr","v":4.5},{"s":"L1","e":"Sm","v":21},{"s":"L1","e":"Ti","v":1.2},{"s":"L1","e":"Tb","v":12},{"s":"L1","e":"Y","v":8},
{"s":"T2","e":"Cs","v":0.65},{"s":"T2","e":"Rb","v":0.04},{"s":"T2","e":"Ba","v":0.009},{"s":"T2","e":"Th","v":3.3},{"s":"T2","e":"U","v":2.3},{"s":"T2","e":"K","v":0.04},{"s":"T2","e":"Ta","v":0.45},{"s":"T2","e":"Nb","v":0.17},{"s":"T2","e":"La","v":17},{"s":"T2","e":"Ce","v":23},{"s":"T2","e":"Sr","v":5.3},{"s":"T2","e":"Nd","v":22},{"s":"T2","e":"P","v":0.22},{"s":"T2","e":"Hf","v":5},{"s":"T2","e":"Zr","v":3.2},{"s":"T2","e":"Sm","v":19},{"s":"T2","e":"Ti","v":1},{"s":"T2","e":"Tb","v":11},{"s":"T2","e":"Y","v":7.3},
{"s":"T3","e":"Cs","v":0.8},{"s":"T3","e":"Rb","v":0.05},{"s":"T3","e":"Ba","v":0.012},{"s":"T3","e":"Th","v":4},{"s":"T3","e":"U","v":3.2},{"s":"T3","e":"K","v":0.045},{"s":"T3","e":"Ta","v":0.55},{"s":"T3","e":"Nb","v":0.22},{"s":"T3","e":"La","v":18},{"s":"T3","e":"Ce","v":24},{"s":"T3","e":"Sr","v":5.6},{"s":"T3","e":"Nd","v":23},{"s":"T3","e":"P","v":0.3},{"s":"T3","e":"Hf","v":5.6},{"s":"T3","e":"Zr","v":3.6},{"s":"T3","e":"Sm","v":20},{"s":"T3","e":"Ti","v":1.05},{"s":"T3","e":"Tb","v":12},{"s":"T3","e":"Y","v":7.8},
{"s":"T1","e":"Cs","v":0.7},{"s":"T1","e":"Rb","v":0.045},{"s":"T1","e":"Ba","v":0.01},{"s":"T1","e":"Th","v":3.8},{"s":"T1","e":"U","v":2.7},{"s":"T1","e":"K","v":0.035},{"s":"T1","e":"Ta","v":0.5},{"s":"T1","e":"Nb","v":0.2},{"s":"T1","e":"La","v":19},{"s":"T1","e":"Ce","v":25},{"s":"T1","e":"Sr","v":5.5},{"s":"T1","e":"Nd","v":24},{"s":"T1","e":"P","v":0.25},{"s":"T1","e":"Hf","v":5.5},{"s":"T1","e":"Zr","v":3.5},{"s":"T1","e":"Sm","v":20},{"s":"T1","e":"Ti","v":1.1},{"s":"T1","e":"Tb","v":12.5},{"s":"T1","e":"Y","v":8},
{"s":"R3","e":"Cs","v":0.8},{"s":"R3","e":"Rb","v":0.04},{"s":"R3","e":"Ba","v":0.015},{"s":"R3","e":"Th","v":3.3},{"s":"R3","e":"U","v":2.2},{"s":"R3","e":"K","v":0.025},{"s":"R3","e":"Ta","v":0.55},{"s":"R3","e":"Nb","v":0.23},{"s":"R3","e":"La","v":16},{"s":"R3","e":"Ce","v":22},{"s":"R3","e":"Sr","v":5},{"s":"R3","e":"Nd","v":24},{"s":"R3","e":"P","v":0.28},{"s":"R3","e":"Hf","v":5.5},{"s":"R3","e":"Zr","v":3.3},{"s":"R3","e":"Sm","v":20},{"s":"R3","e":"Ti","v":0.9},{"s":"R3","e":"Tb","v":12.5},{"s":"R3","e":"Y","v":8.5},
{"s":"R2","e":"Cs","v":0.9},{"s":"R2","e":"Rb","v":0.045},{"s":"R2","e":"Ba","v":0.012},{"s":"R2","e":"Th","v":3.6},{"s":"R2","e":"U","v":2.6},{"s":"R2","e":"K","v":0.02},{"s":"R2","e":"Ta","v":0.6},{"s":"R2","e":"Nb","v":0.25},{"s":"R2","e":"La","v":17},{"s":"R2","e":"Ce","v":24},{"s":"R2","e":"Sr","v":5.2},{"s":"R2","e":"Nd","v":25},{"s":"R2","e":"P","v":0.3},{"s":"R2","e":"Hf","v":5.8},{"s":"R2","e":"Zr","v":3.5},{"s":"R2","e":"Sm","v":21},{"s":"R2","e":"Ti","v":0.95},{"s":"R2","e":"Tb","v":13},{"s":"R2","e":"Y","v":9},
{"s":"R1","e":"Cs","v":1},{"s":"R1","e":"Rb","v":0.05},{"s":"R1","e":"Ba","v":0.015},{"s":"R1","e":"Th","v":4},{"s":"R1","e":"U","v":3},{"s":"R1","e":"K","v":0.015},{"s":"R1","e":"Ta","v":0.7},{"s":"R1","e":"Nb","v":0.28},{"s":"R1","e":"La","v":18},{"s":"R1","e":"Ce","v":26},{"s":"R1","e":"Sr","v":5},{"s":"R1","e":"Nd","v":27},{"s":"R1","e":"P","v":0.6},{"s":"R1","e":"Hf","v":6.2},{"s":"R1","e":"Zr","v":3.8},{"s":"R1","e":"Sm","v":22},{"s":"R1","e":"Ti","v":1},{"s":"R1","e":"Tb","v":14},{"s":"R1","e":"Y","v":10}
]
},
"spacing":28,
"resolve":{"scale":{"x":"independent","y":"independent"},"legend":{"color":"independent"}},
"hconcat":[
{"spacing":19,"center":true,"resolve":{"scale":{"x":"independent","y":"independent"},"legend":{"color":"independent"}},"vconcat":[
 {"width":352,"height":63,"view":{"stroke":"#222","strokeWidth":3},"data":{"values":[{"t":"Clinopyroxene core"}]},"mark":{"type":"text","font":"Lato","fontWeight":"bold","fontSize":38,"color":"#111"},"encoding":{"text":{"field":"t","type":"nominal"},
   "y":{"datum":1,"type":"quantitative","scale":{"domain":[0,2]},"axis":{"values":[1],"labelExpr":"'0.01'","labelOpacity":0,"tickOpacity":0,"domainOpacity":0,"title":"x","titleOpacity":0,"titleFontSize":22,"titlePadding":8,"minExtent":62,"maxExtent":62,"labelFontSize":20,"labelPadding":8}}}},
 {"width":852,"height":421,"layer":[
   {"data":{"name":"bandREE"},"mark":{"type":"area","color":"#c6c6c6","opacity":1},"encoding":{
     "x":{"field":"e","type":"nominal","sort":["La","Ce","Pr","Nd","Sm","Eu","Gd","Tb","Dy","Ho","Er","Tm","Yb","Lu"],"scale":{"type":"band","domain":["La","Ce","Pr","Nd","Sm","Eu","Gd","Tb","Dy","Ho","Er","Tm","Yb","Lu"],"paddingInner":0,"paddingOuter":0},"axis":{"title":null,"labelAngle":-50,"labelAlign":"right","labelBaseline":"middle","labelFontSize":19,"labelPadding":15,"tickBand":"extent"}},
     "y":{"field":"hi","type":"quantitative","scale":{"type":"log","domain":[1,100],"nice":false},"axis":{"values":[1,10,100],"format":"~g","title":"Sample/Chondrite","titleFontSize":22,"labelFontSize":20,"titlePadding":8,"minExtent":62,"maxExtent":62,"labelPadding":8}},
     "y2":{"field":"lo"}}},
   {"data":{"name":"reeCore"},"transform":[{"lookup":"s","from":{"data":{"name":"groups"},"key":"s","fields":["g"]}}],"mark":{"type":"line","strokeWidth":2},"encoding":{
     "x":{"field":"e","type":"nominal","sort":["La","Ce","Pr","Nd","Sm","Eu","Gd","Tb","Dy","Ho","Er","Tm","Yb","Lu"]},
     "y":{"field":"v","type":"quantitative"},
     "color":{"field":"g","type":"nominal","scale":{"domain":["Basalt","Shoshonite","Latite","Trachyte","Rhyolite"],"range":["#1f9a45","#f5962a","#2ab0e0","#1f2f8f","#e3262f"]},"legend":null},
     "detail":{"field":"s"}}},
   {"data":{"values":[{"e":"Tm","v":56,"t":"Clinopyroxene recharge band"}]},"mark":{"type":"text","font":"Lato","fontSize":22,"color":"#333","dx":-16},"encoding":{"x":{"field":"e","type":"nominal"},"y":{"field":"v","type":"quantitative"},"text":{"field":"t","type":"nominal"}}},
   {"data":{"values":[{"e":"Tm","v":46,"v2":22.6}]},"mark":{"type":"rule","color":"#222","strokeWidth":2,"xOffset":2,"x2Offset":-23},"encoding":{"x":{"field":"e","type":"nominal","bandPosition":0.5},"x2":{"field":"e","bandPosition":0.5},"y":{"field":"v","type":"quantitative"},"y2":{"field":"v2"}}},
   {"data":{"values":[{"e":"Tm","v":22.6}]},"mark":{"type":"point","shape":"triangle-down","filled":true,"color":"#222","opacity":1,"size":90,"angle":14,"xOffset":-22,"yOffset":-4},"encoding":{"x":{"field":"e","type":"nominal"},"y":{"field":"v","type":"quantitative"}}}
 ]},
 {"width":852,"height":392,"layer":[
   {"data":{"name":"bandSP"},"mark":{"type":"area","color":"#c6c6c6","opacity":1},"encoding":{
     "x":{"field":"e","type":"nominal","sort":["Cs","Rb","Ba","Th","U","K","Ta","Nb","La","Ce","Sr","Nd","P","Hf","Zr","Sm","Ti","Tb","Y"],"scale":{"type":"band","domain":["Cs","Rb","Ba","Th","U","K","Ta","Nb","La","Ce","Sr","Nd","P","Hf","Zr","Sm","Ti","Tb","Y"],"paddingInner":0,"paddingOuter":0},"axis":{"title":null,"labelAngle":-50,"labelAlign":"right","labelBaseline":"middle","labelFontSize":19,"labelPadding":15,"tickBand":"extent"}},
     "y":{"field":"hi","type":"quantitative","scale":{"type":"log","domain":[0.01,100],"nice":false},"axis":{"values":[0.01,0.1,1,10,100],"format":"~g","title":"Sample/Primitive Mantle","titleFontSize":22,"labelFontSize":20,"titlePadding":8,"minExtent":62,"maxExtent":62,"labelPadding":8}},
     "y2":{"field":"lo"}}},
   {"data":{"name":"spCore"},"transform":[{"lookup":"s","from":{"data":{"name":"groups"},"key":"s","fields":["g"]}}],"mark":{"type":"line","strokeWidth":2},"encoding":{
     "x":{"field":"e","type":"nominal","sort":["Cs","Rb","Ba","Th","U","K","Ta","Nb","La","Ce","Sr","Nd","P","Hf","Zr","Sm","Ti","Tb","Y"]},
     "y":{"field":"v","type":"quantitative"},
     "color":{"field":"g","type":"nominal","scale":{"domain":["Basalt","Shoshonite","Latite","Trachyte","Rhyolite"],"range":["#1f9a45","#f5962a","#2ab0e0","#1f2f8f","#e3262f"]},"legend":null},
     "detail":{"field":"s"}}},
   {"data":{"values":[{"e":"U","v":38.2,"t":"Clinopyroxene recharge band"}]},"mark":{"type":"text","font":"Lato","fontSize":22,"color":"#333","dx":-15},"encoding":{"x":{"field":"e","type":"nominal"},"y":{"field":"v","type":"quantitative"},"text":{"field":"t","type":"nominal"}}},
   {"data":{"values":[{"e":"U","v":26.8,"v2":5.56}]},"mark":{"type":"rule","color":"#222","strokeWidth":2,"xOffset":-5,"x2Offset":-20},"encoding":{"x":{"field":"e","type":"nominal","bandPosition":0.5},"x2":{"field":"e","bandPosition":0.5},"y":{"field":"v","type":"quantitative"},"y2":{"field":"v2"}}},
   {"data":{"values":[{"e":"U","v":5.56}]},"mark":{"type":"point","shape":"triangle-down","filled":true,"color":"#222","opacity":1,"size":90,"angle":13,"xOffset":-19,"yOffset":-4},"encoding":{"x":{"field":"e","type":"nominal"},"y":{"field":"v","type":"quantitative"}}}
 ]}
]},
{"spacing":19,"center":true,"resolve":{"scale":{"x":"independent","y":"independent"},"legend":{"color":"independent"}},"vconcat":[
 {"width":507,"height":63,"view":{"stroke":"#222","strokeWidth":3},"data":{"values":[{"t":"Clinopyroxene mantle + rim"}]},"mark":{"type":"text","font":"Lato","fontWeight":"bold","fontSize":38,"color":"#111"},"encoding":{"text":{"field":"t","type":"nominal"},
   "y":{"datum":1,"type":"quantitative","scale":{"domain":[0,2]},"axis":{"values":[1],"labelExpr":"'0.01'","labelOpacity":0,"tickOpacity":0,"domainOpacity":0,"title":null,"labelFontSize":20,"labelPadding":8}}}},
 {"width":852,"height":421,"data":{"name":"reeRim"},"transform":[{"lookup":"s","from":{"data":{"name":"groups"},"key":"s","fields":["g"]}}],"mark":{"type":"line","strokeWidth":2},"encoding":{
     "x":{"field":"e","type":"nominal","sort":["La","Ce","Pr","Nd","Sm","Eu","Gd","Tb","Dy","Ho","Er","Tm","Yb","Lu"],"scale":{"type":"band","domain":["La","Ce","Pr","Nd","Sm","Eu","Gd","Tb","Dy","Ho","Er","Tm","Yb","Lu"],"paddingInner":0,"paddingOuter":0},"axis":{"title":null,"labelAngle":-50,"labelAlign":"right","labelBaseline":"middle","labelFontSize":19,"labelPadding":15,"tickBand":"extent"}},
     "y":{"field":"v","type":"quantitative","scale":{"type":"log","domain":[10,100],"nice":false},"axis":{"values":[10,100],"format":"~g","title":null,"labelFontSize":20,"labelPadding":13.6}},
     "color":{"field":"g","type":"nominal","scale":{"domain":["Basalt","Shoshonite","Latite","Trachyte","Rhyolite"],"range":["#1f9a45","#f5962a","#2ab0e0","#1f2f8f","#e3262f"]},"legend":{"title":null,"orient":"top-right","offset":6,"strokeColor":"#222","fillColor":"white","padding":19,"symbolType":"stroke","symbolSize":1400,"symbolStrokeWidth":4,"labelFont":"Lato","labelFontSize":19,"labelColor":"#444","rowPadding":4,"labelOffset":18}},
     "detail":{"field":"s"}}},
 {"width":852,"height":392,"data":{"name":"spRim"},"transform":[{"lookup":"s","from":{"data":{"name":"groups"},"key":"s","fields":["g"]}}],"mark":{"type":"line","strokeWidth":2},"encoding":{
     "x":{"field":"e","type":"nominal","sort":["Cs","Rb","Ba","Th","U","K","Ta","Nb","La","Ce","Sr","Nd","P","Hf","Zr","Sm","Ti","Tb","Y"],"scale":{"type":"band","domain":["Cs","Rb","Ba","Th","U","K","Ta","Nb","La","Ce","Sr","Nd","P","Hf","Zr","Sm","Ti","Tb","Y"],"paddingInner":0,"paddingOuter":0},"axis":{"title":null,"labelAngle":-50,"labelAlign":"right","labelBaseline":"middle","labelFontSize":19,"labelPadding":15,"tickBand":"extent"}},
     "y":{"field":"v","type":"quantitative","scale":{"type":"log","domain":[0.01,100],"nice":false},"axis":{"values":[0.01,0.1,1,10,100],"format":"~g","title":null,"labelFontSize":20,"labelPadding":8}},
     "color":{"field":"g","type":"nominal","scale":{"domain":["Basalt","Shoshonite","Latite","Trachyte","Rhyolite"],"range":["#1f9a45","#f5962a","#2ab0e0","#1f2f8f","#e3262f"]},"legend":null},
     "detail":{"field":"s"}}}
]}
]
}
